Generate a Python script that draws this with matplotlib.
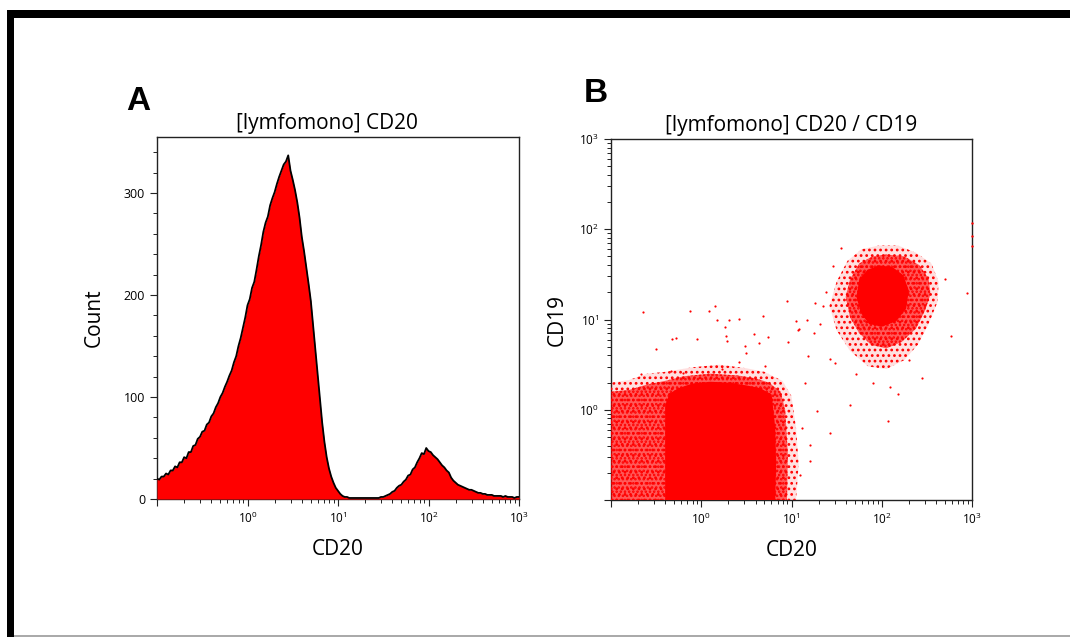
import numpy as np
import matplotlib
matplotlib.use("Agg")
import matplotlib.pyplot as plt
from matplotlib.patches import Rectangle
from matplotlib.ticker import LogLocator, FuncFormatter, MultipleLocator

plt.rcParams["font.family"] = ["Open Sans", "DejaVu Sans"]
plt.rcParams["mathtext.fontset"] = "custom"
plt.rcParams["mathtext.rm"] = "Open Sans"
plt.rcParams["hatch.linewidth"] = 1.2

# ---- data -----------------------------------------------------------------
# CD20 histogram (panel A): channel centres in log10 units, counts per channel
hist_log10 = np.round(np.arange(-1.0, 3.0001, 0.025), 3)
hist_counts = [
    20, 19, 22, 22, 25, 24, 28, 28, 32, 31, 36, 36, 41, 40, 46, 46,
    52, 53, 59, 61, 66, 67, 73, 75, 81, 84, 90, 94, 100, 104, 110, 115,
    121, 126, 134, 140, 150, 158, 168, 178, 190, 196, 207, 213, 225, 238, 249, 262,
    271, 277, 288, 295, 301, 309, 316, 322, 328, 331, 337, 322, 313, 303, 291, 276,
    257, 243, 227, 211, 194, 170, 146, 121, 97, 75, 56, 41, 30, 22, 16, 11,
    8, 5, 3, 2, 2, 1, 1, 1, 1, 1, 1, 1, 1, 1, 1, 1,
    1, 1, 1, 2, 2, 3, 4, 5, 7, 8, 11, 13, 14, 17, 19, 23,
    24, 29, 31, 36, 40, 45, 44, 50, 47, 46, 43, 41, 39, 36, 33, 31,
    28, 26, 21, 18, 16, 14, 13, 12, 11, 10, 9, 9, 8, 7, 6, 6,
    5, 5, 4, 4, 4, 3, 3, 3, 3, 2, 3, 2, 2, 2, 1, 2, 2,
]

# CD20 / CD19 dot plot (panel B): population outlines in log10 units
# lower-left (CD20-/CD19-) population
neg_core = [(-0.40, -1.0), (-0.40, 0.05), (-0.35, 0.18), (-0.25, 0.24), (-0.10, 0.29),
            (0.10, 0.31), (0.30, 0.30), (0.50, 0.27), (0.65, 0.24), (0.78, 0.17),
            (0.82, -0.20), (0.83, -0.60), (0.82, -1.0)]
neg_mid = [(-1.0, -1.0), (-1.0, 0.20), (-0.80, 0.22), (-0.60, 0.28), (-0.40, 0.32),
           (-0.20, 0.37), (0.10, 0.40), (0.40, 0.38), (0.60, 0.35), (0.75, 0.30),
           (0.88, 0.20), (0.93, 0.0), (0.96, -0.50), (0.95, -1.0)]
neg_outer = [(-1.0, -1.0), (-1.0, 0.30), (-0.80, 0.33), (-0.60, 0.40), (-0.40, 0.42),
             (-0.10, 0.47), (0.20, 0.50), (0.50, 0.46), (0.70, 0.42), (0.90, 0.32),
             (1.00, 0.15), (1.05, -0.20), (1.08, -0.60), (1.05, -1.0)]
# upper-right (CD20+/CD19+) B-cell population
pos_core = [(1.72, 1.25), (1.75, 1.44), (1.84, 1.55), (1.97, 1.60), (2.12, 1.58),
            (2.24, 1.49), (2.30, 1.32), (2.27, 1.12), (2.16, 0.98), (2.00, 0.92),
            (1.86, 0.95), (1.77, 1.07)]
pos_mid = [(1.60, 1.25), (1.65, 1.45), (1.75, 1.62), (1.90, 1.70), (2.05, 1.72),
           (2.25, 1.70), (2.42, 1.60), (2.52, 1.45), (2.54, 1.28), (2.48, 1.10),
           (2.38, 0.90), (2.22, 0.75), (2.05, 0.68), (1.88, 0.72), (1.75, 0.85),
           (1.65, 1.02)]
pos_outer = [(1.42, 1.15), (1.50, 1.42), (1.62, 1.65), (1.78, 1.78), (1.97, 1.82),
             (2.18, 1.82), (2.38, 1.74), (2.55, 1.62), (2.63, 1.42), (2.62, 1.20),
             (2.52, 0.95), (2.40, 0.72), (2.25, 0.55), (2.05, 0.45), (1.85, 0.48),
             (1.65, 0.65), (1.50, 0.88)]
# single scattered events (log10 CD20, log10 CD19)
events_x = [-0.64, -0.13, 0.09, 0.15, 0.18, 0.26, 0.31, 0.42, 0.27, 0.28,
            -0.05, -0.32, -0.28, -0.50, 0.68, 0.58, 0.64, 0.74, 0.95, 0.96,
            1.05, 1.07, 0.49, 0.50, 0.42, 0.23, 0.71, -0.67, -0.34, -0.20,
            1.55, 1.46, 1.35, 1.26, 1.17, 1.08, 1.43, 1.48, 1.65, 2.07,
            2.18, 2.09, 2.77, 2.95, 1.43, 1.28, 1.20, 1.21, 1.09, 1.15,
            1.12, 1.18, 1.25, 1.32, 1.38, 2.70, 2.45, 1.72, 1.90, 2.30]
events_y = [1.08, 1.09, 1.09, 1.15, 1.00, 0.92, 0.99, 1.01, 0.82, 0.76,
            0.78, 0.78, 0.79, 0.67, 1.04, 0.84, 0.74, 0.81, 1.20, 0.75,
            0.98, 0.88, 0.71, 0.63, 0.53, 0.45, 0.49, 0.40, 0.43, 0.41,
            1.79, 1.59, 1.15, 1.18, 1.00, 0.89, 0.56, 0.52, 0.05, -0.12,
            0.18, 0.25, 0.82, 1.29, -0.26, -0.01, -0.39, -0.57, -0.72, 0.30,
            -0.20, 0.60, 0.85, 0.95, 1.30, 1.45, 0.35, 0.40, 0.30, 0.55]
# events piled at the upper CD20 limit
edge_y = [2.07, 1.93, 1.81]

red = "#ff0000"


def log_ticks(axis):
    axis.set_major_locator(LogLocator(base=10, numticks=10))
    axis.set_minor_locator(LogLocator(base=10, subs=np.arange(2, 10), numticks=10))
    axis.set_major_formatter(FuncFormatter(
        lambda v, _: r"$\mathregular{10^{%d}}$" % round(np.log10(v)) if v >= 1 else ""))
    axis.set_minor_formatter(FuncFormatter(lambda v, _: ""))


def poly(pts):
    a = np.array(pts)
    return 10 ** a[:, 0], 10 ** a[:, 1]


fig = plt.figure(figsize=(10.70, 6.37), dpi=100)

# ---- panel A --------------------------------------------------------------
axA = fig.add_axes([157 / 1070, 1 - 499 / 637, 362 / 1070, 362 / 637])
x = 10 ** hist_log10
axA.fill_between(x, hist_counts, 0, color=red, lw=0, zorder=3)
axA.plot(x, hist_counts, color="black", lw=1.3, zorder=4)
axA.set_xscale("log")
axA.set_xlim(0.1, 1000)
axA.set_ylim(0, 355)
log_ticks(axA.xaxis)
axA.yaxis.set_major_locator(MultipleLocator(100))
axA.yaxis.set_minor_locator(MultipleLocator(20))
axA.set_ylabel("Count", fontsize=15, labelpad=14)
axA.set_xlabel("CD20", fontsize=15, labelpad=9)
axA.set_title("[lymfomono] CD20", fontsize=15, pad=6, x=0.47)

# ---- panel B --------------------------------------------------------------
axB = fig.add_axes([611 / 1070, 1 - 500 / 637, 361 / 1070, 361 / 637])
# sparse halo: dotted texture, denser halo: tinted + dotted, core: solid
for outer, mid, core in [(neg_outer, neg_mid, neg_core), (pos_outer, pos_mid, pos_core)]:
    px, py = poly(outer)
    axB.fill(px, py, facecolor=(1, 0, 0, 0.12), edgecolor=red, hatch="...", lw=0, zorder=3)
    px, py = poly(mid)
    axB.fill(px, py, facecolor=(1, 0, 0, 0.6), edgecolor=red, hatch="....", lw=0, zorder=3)
    px, py = poly(core)
    axB.fill(px, py, color=red, lw=0, zorder=3)
axB.scatter(10 ** np.array(events_x), 10 ** np.array(events_y), s=2.5, color=red,
            lw=0, zorder=3)
axB.scatter([1000] * len(edge_y), 10 ** np.array(edge_y), s=3, color=red,
            lw=0, zorder=4, clip_on=False)
axB.set_xscale("log")
axB.set_yscale("log")
axB.set_xlim(0.1, 1000)
axB.set_ylim(0.1, 1000)
log_ticks(axB.xaxis)
log_ticks(axB.yaxis)
axB.set_xlabel("CD20", fontsize=15, labelpad=9)
axB.set_ylabel("CD19", fontsize=15, labelpad=8)
axB.set_title("[lymfomono] CD20 / CD19", fontsize=15, pad=6)

for ax in (axA, axB):
    for s in ax.spines.values():
        s.set_linewidth(1.0)
        s.set_color("#222222")
    ax.tick_params(which="major", length=5, width=0.8, labelsize=8.5, color="#222222")
    ax.tick_params(which="minor", length=3, width=0.7, color="#222222")
axA.tick_params(axis="y", labelsize=9)

fig.text(138 / 1070, 1 - 101 / 637, "A", fontsize=24, fontweight="bold",
         family="Liberation Sans", ha="center", va="center")
fig.text(596 / 1070, 1 - 93 / 637, "B", fontsize=24, fontweight="bold",
         family="Liberation Sans", ha="center", va="center")

# page frame (thick black top and left edges, thin grey bottom line)
fig.add_artist(Rectangle((7 / 1070, 1 - 18 / 637), 1.0, 8 / 637,
                         transform=fig.transFigure, color="black", lw=0))
fig.add_artist(Rectangle((7 / 1070, 0), 7 / 1070, 1 - 10 / 637,
                         transform=fig.transFigure, color="black", lw=0))
fig.add_artist(Rectangle((14 / 1070, 0), 1.0, 2 / 637,
                         transform=fig.transFigure, color="#aaaaaa", lw=0))

fig.savefig("out.png", dpi=100)
